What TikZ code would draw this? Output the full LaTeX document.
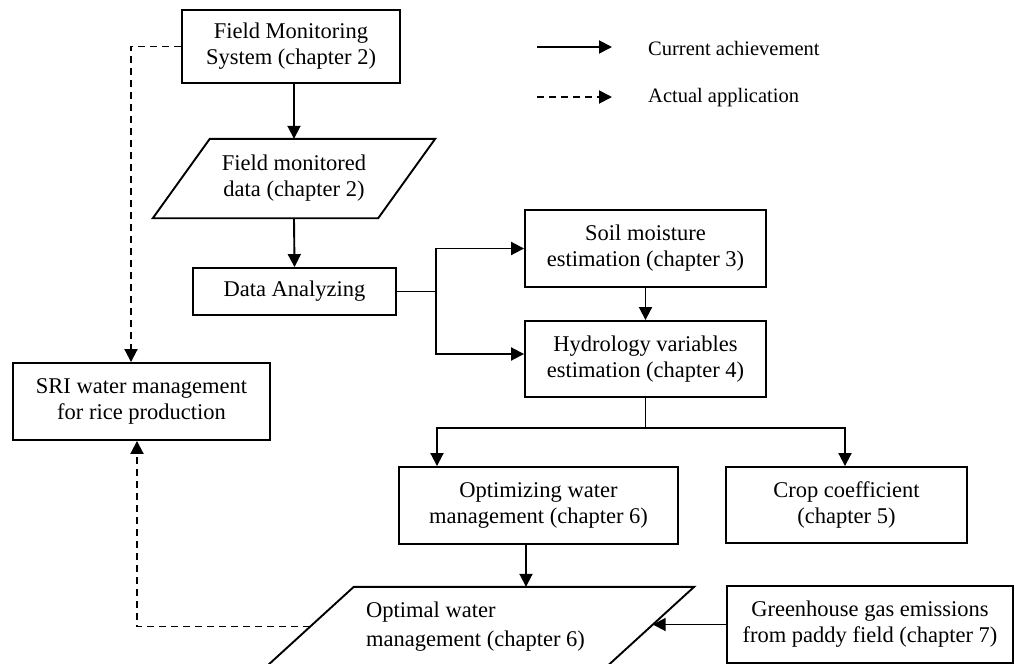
\documentclass[tikz,border=0pt]{standalone}
\usepackage{fontspec}
\setmainfont{Liberation Serif}
\usetikzlibrary{arrows.meta,calc}
\begin{document}
\begin{tikzpicture}[x=1pt,y=-1pt,
  every node/.style={font=\fontsize{22.5}{26}\selectfont},
  box/.style={draw, line width=1.9pt, align=center, inner sep=0pt},
  io/.style={align=center, inner sep=0pt},
  tip/.style={-{Triangle[length=13pt,width=13pt]}},
  link/.style={line width=1.9pt},
  arr/.style={link, tip},
  dsh/.style={line width=1.9pt, dash pattern=on 7pt off 5pt},
  darr/.style={dsh, tip},
  slant/.style={draw, line width=1.9pt},
  legend/.style={anchor=west, inner sep=0pt, font=\fontsize{20.5}{24}\selectfont}
]
\useasboundingbox (0,0) rectangle (1015,664);

% ---- process boxes ----
\node[box, minimum width=218pt, minimum height=73pt] (fms) at (291,46.5)
  {Field Monitoring\\System (chapter 2)};
\node[box, minimum width=203pt, minimum height=47pt] (da) at (294.5,291.5)
  {Data Analyzing};
\node[box, minimum width=241pt, minimum height=77pt] (soil) at (645.5,248.5)
  {Soil moisture\\estimation (chapter 3)};
\node[box, minimum width=241pt, minimum height=76pt] (hyd) at (645.5,359)
  {Hydrology variables\\estimation (chapter 4)};
\node[box, minimum width=279pt, minimum height=77pt] (opt) at (538.5,505.5)
  {Optimizing water\\management (chapter 6)};
\node[box, minimum width=241pt, minimum height=76pt] (crop) at (846.5,505)
  {Crop coefficient\\(chapter 5)};
\node[box, minimum width=257pt, minimum height=77pt] (sri) at (141.5,401.5)
  {SRI water management\\for rice production};
\node[box, minimum width=286pt, minimum height=77pt] (gh) at (870,624.5)
  {Greenhouse gas emissions\\from paddy field (chapter 7)};

% ---- data (parallelogram) shapes ----
\node[io, minimum width=225pt, minimum height=79pt] (fmd) at (294,178.5)
  {Field monitored\\data (chapter 2)};
\draw[slant] ([xshift=28.5pt]fmd.north west) -- ([xshift=28.5pt]fmd.north east)
  -- ([xshift=-28.5pt]fmd.south east) -- ([xshift=-28.5pt]fmd.south west) -- cycle;

\node[io, minimum width=340pt, minimum height=79pt] (owm) at (480.5,626.5) {};
\draw[slant] ([xshift=43.5pt]owm.north west) -- ([xshift=43.5pt]owm.north east)
  -- ([xshift=-43.5pt]owm.south east) -- ([xshift=-43.5pt]owm.south west) -- cycle;
\node[anchor=north west, align=left, inner sep=0pt,
      font=\fontsize{22.5}{29.5}\selectfont] (owmtext) at (366,601.5)
  {Optimal water\\management (chapter 6)};

% ---- solid flow ----
\draw[arr] (fms.south -| fmd.north) -- (fmd.north);
\draw[arr] (fmd.south) -- (da.north);
\coordinate (jn) at (436,291.5);
\draw[link] (da.east) -- (jn);
\draw[arr] (jn) |- (soil.west);
\draw[arr] (jn) |- ([yshift=5pt]hyd.west);
\draw[arr] (soil.south) -- (hyd.north);
\coordinate (br) at (645.5,428);
\draw[link] (hyd.south) -- (br);
\draw[arr] (br) -| ([xshift=-101.5pt]opt.north);
\draw[arr] (br) -| ([xshift=-1.5pt]crop.north);
\draw[arr] ([xshift=-12.5pt]opt.south) -- ([xshift=-12.5pt]opt.south |- owm.north);
\draw[arr] (gh.west) -- ([xshift=2pt]gh.west -| owm.east);

% ---- dashed links ----
\draw[darr] (fms.west) -| ([xshift=-10.5pt]sri.north);
\draw[darr] (owm.west) -| ([xshift=-4.5pt]sri.south);

% ---- legend ----
\coordinate (l1a) at (537,47);
\coordinate (l1b) at (612,47);
\draw[arr] (l1a) -- (l1b);
\node[legend] (l1) at (648,48) {Current achievement};
\coordinate (l2a) at (537,97);
\coordinate (l2b) at (612,97);
\draw[darr] (l2a) -- (l2b);
\node[legend] (l2) at (648,98) {Actual application};
\end{tikzpicture}
\end{document}
